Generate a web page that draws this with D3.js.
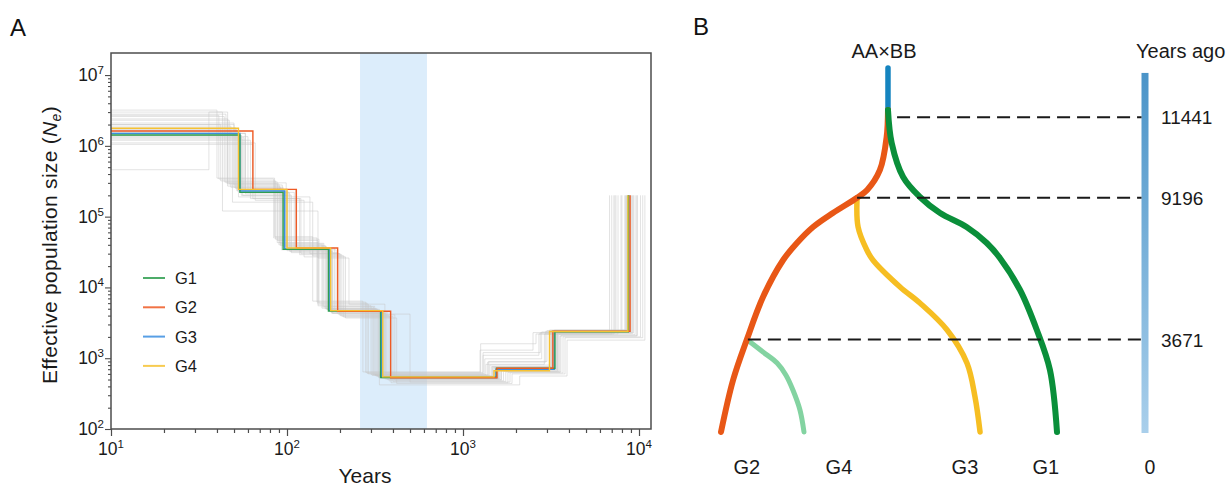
<!DOCTYPE html>
<html>
<head>
<meta charset="utf-8">
<script src="https://cdn.jsdelivr.net/npm/d3@7"></script>
<style>
  body { margin: 0; background: #fff; }
  svg { display: block; font-family: "Liberation Sans", Arial, sans-serif; }
</style>
</head>
<body>
<div id="chart"></div>
<script>
// ---------------- data: panel A (PSMC-like step curves) ----------------
const groupNames = ["G1", "G2", "G3", "G4"];
const groupColors = ["#2e9e4f", "#ee5a24", "#3b8ee0", "#f6c232"];

// years where each step starts, and Ne held from that year on
const g1Years = [10, 54, 95, 172, 340, 1550, 3330, 8700];
const g1Ne    = [1.42e6, 2.2e5, 3.45e4, 4.65e3, 535, 720, 2370, 2.0e5];
const g2Years = [10, 64, 113, 194, 388, 1560, 3240, 8900];
const g2Ne    = [1.62e6, 2.43e5, 3.6e4, 4.6e3, 530, 720, 2400, 2.0e5];
const g3Years = [10, 54, 97, 175, 345, 1540, 3300, 8750];
const g3Ne    = [1.5e6, 2.3e5, 3.5e4, 4.7e3, 540, 700, 2380, 2.0e5];
const g4Years = [10, 53, 100, 177, 350, 1500, 3100, 8650];
const g4Ne    = [1.77e6, 2.43e5, 3.6e4, 4.7e3, 545, 665, 2390, 2.0e5];

// bootstrap replicates (grey)
const bootYears = [
  [10, 48, 92, 165, 320, 1450, 3200, 8400],
  [10, 58, 104, 182, 360, 1600, 3400, 9100],
  [10, 44, 88, 150, 290, 1300, 2700, 7200],
  [10, 62, 118, 205, 400, 1750, 3600, 9800],
  [10, 52, 96, 170, 330, 1520, 3300, 8800],
  [10, 40, 85, 140, 270, 1250, 2500, 6800],
  [10, 55, 100, 178, 345, 1580, 3250, 8650],
  [10, 66, 125, 215, 420, 1900, 3800, 10500],
  [10, 50, 94, 160, 310, 1400, 3000, 8000],
  [10, 36, 46, 88, 150, 300, 1350, 2900, 7600],
  [10, 57, 110, 190, 370, 1650, 3450, 9300],
  [10, 47, 90, 158, 305, 1420, 3100, 8300],
  [10, 53, 135, 200, 380, 1700, 3500, 9500],
  [10, 45, 99, 168, 335, 2100, 3900, 10800],
  [10, 60, 112, 186, 355, 1480, 3150, 8500],
  [10, 42, 86, 152, 285, 1330, 2800, 7400],
  [10, 56, 106, 195, 500, 1850, 3700, 10200],
  [10, 51, 93, 173, 340, 1560, 3350, 8900],
  [10, 49, 140, 210, 390, 1800, 3550, 9700],
  [10, 54, 97, 176, 348, 1530, 3280, 8750],
  [10, 46, 91, 162, 315, 1380, 2950, 7900],
  [10, 64, 120, 200, 410, 1650, 3450, 9200],
  [10, 50, 95, 167, 325, 1470, 3180, 8450],
  [10, 43, 150, 225, 360, 1260, 2600, 7000],
  [10, 58, 103, 180, 365, 1620, 3380, 9000],
  [10, 52, 98, 172, 330, 1500, 3220, 8600],
  [10, 41, 84, 148, 280, 1300, 2750, 7300],
  [10, 55, 101, 181, 352, 1590, 3320, 8800]
];
const bootNe = [
  [1.9e6, 2.6e5, 3.9e4, 5.0e3, 560, 760, 2450, 2.0e5],
  [1.5e6, 2.1e5, 3.2e4, 4.3e3, 510, 690, 2300, 2.0e5],
  [2.6e6, 3.1e5, 4.6e4, 5.8e3, 600, 1100, 2200, 2.0e5],
  [1.2e6, 1.8e5, 2.9e4, 3.9e3, 470, 640, 2100, 2.0e5],
  [1.7e6, 2.3e5, 3.5e4, 4.8e3, 540, 730, 2500, 2.0e5],
  [3.2e6, 3.5e5, 5.2e4, 6.4e3, 640, 1300, 2300, 2.0e5],
  [1.4e6, 2.0e5, 3.3e4, 4.4e3, 520, 700, 2350, 2.0e5],
  [1.1e6, 1.7e5, 2.7e4, 3.7e3, 440, 600, 1950, 2.0e5],
  [2.1e6, 2.8e5, 4.1e4, 5.3e3, 580, 900, 2450, 2.0e5],
  [4.6e5, 3.0e6, 2.9e5, 4.3e4, 5.5e3, 590, 820, 2200, 2.0e5],
  [1.3e6, 2.2e5, 3.4e4, 4.5e3, 500, 680, 2280, 2.0e5],
  [2.3e6, 2.9e5, 4.0e4, 5.1e3, 570, 800, 2500, 2.0e5],
  [1.6e6, 1.9e5, 3.0e4, 4.0e3, 480, 650, 2150, 2.0e5],
  [2.8e6, 3.0e5, 3.7e4, 4.9e3, 420, 560, 1800, 2.0e5],
  [1.35e6, 2.4e5, 3.6e4, 4.6e3, 550, 740, 2420, 2.0e5],
  [2.0e6, 3.2e5, 4.8e4, 6.0e3, 610, 980, 2350, 2.0e5],
  [1.25e6, 2.0e5, 3.1e4, 4.2e3, 460, 620, 2000, 2.0e5],
  [1.8e6, 2.5e5, 3.4e4, 4.7e3, 530, 710, 2400, 2.0e5],
  [1.55e6, 1.6e5, 2.8e4, 3.8e3, 450, 630, 2050, 2.0e5],
  [1.45e6, 2.3e5, 3.5e4, 4.6e3, 540, 720, 2380, 2.0e5],
  [2.4e6, 2.7e5, 4.2e4, 5.4e3, 580, 880, 2400, 2.0e5],
  [1.05e6, 1.8e5, 3.0e4, 4.1e3, 490, 660, 2250, 2.0e5],
  [2.0e6, 2.6e5, 3.8e4, 5.0e3, 560, 760, 2460, 2.0e5],
  [3.0e6, 1.2e5, 2.6e4, 5.8e3, 620, 1600, 2200, 2.0e5],
  [1.5e6, 2.2e5, 3.3e4, 4.3e3, 515, 700, 2330, 2.0e5],
  [1.65e6, 2.35e5, 3.6e4, 4.75e3, 545, 730, 2410, 2.0e5],
  [2.7e6, 3.4e5, 5.0e4, 6.2e3, 630, 1200, 2300, 2.0e5],
  [1.4e6, 2.25e5, 3.45e4, 4.55e3, 525, 715, 2390, 2.0e5]
];

const shadedYears = [260, 624];
const xMajor = [10, 100, 1000, 10000];
const yMajor = [100, 1e3, 1e4, 1e5, 1e6, 1e7];

// ---------------- data: panel B (divergence schematic) ----------------
const splitYears = [11441, 9196, 3671];
const tipNames = ["G2", "G4", "G3", "G1"];
const tipLabelLane = [0.077, 0.351, 0.726, 0.967];
const dashStartLane = [0.524, 0.405, 0.08];
const stemPath = [[0.497, 12817], [0.497, 11645]];
// branch waypoints: [lane, years ago]
const branchG2 = [[0.497, 11645], [0.493, 10891], [0.473, 9970], [0.435, 9411], [0.405, 9196],
  [0.333, 8600], [0.274, 8054], [0.226, 7431], [0.185, 6769], [0.125, 5327], [0.077, 3671], [0.036, 2064], [0, 0]];
const branchG1 = [[0.497, 11645], [0.508, 10723], [0.542, 9774], [0.592, 9216], [0.652, 8600],
  [0.731, 8054], [0.791, 7431], [0.830, 6847], [0.890, 5600], [0.940, 4042], [0.979, 2460], [1, 0]];
const branchG3 = [[0.405, 9196], [0.408, 8054], [0.434, 7158], [0.452, 6769], [0.533, 5717],
  [0.592, 5093], [0.673, 4042], [0.732, 2738], [0.756, 1389], [0.771, 0]];
const branchG4 = [[0.077, 3671], [0.125, 3175], [0.167, 2738], [0.193, 2262], [0.214, 1667], [0.235, 873], [0.247, 0]];

// ---------------- svg ----------------
const svg = d3.select("#chart").append("svg")
  .attr("width", 1231)
  .attr("height", 488);

svg.append("rect").attr("width", 1231).attr("height", 488).attr("fill", "#fff");

// ================= Panel A =================
const plotA = {left: 111, right: 651, top: 53, bottom: 429};

const x = d3.scaleLog().domain([10, 11700]).range([plotA.left, plotA.right]);
const y = d3.scaleLog().domain([100, 2.05e7]).range([plotA.bottom, plotA.top]);

svg.append("clipPath").attr("id", "clipA")
  .append("rect")
  .attr("x", plotA.left).attr("y", plotA.top)
  .attr("width", plotA.right - plotA.left)
  .attr("height", plotA.bottom - plotA.top);

// shaded period
svg.append("rect")
  .attr("x", x(shadedYears[0]))
  .attr("y", plotA.top)
  .attr("width", x(shadedYears[1]) - x(shadedYears[0]))
  .attr("height", plotA.bottom - plotA.top)
  .attr("fill", "#dcedfb");

const stepLine = d3.line()
  .curve(d3.curveStepAfter)
  .x(d => x(d[0]))
  .y(d => y(d[1]));

const linesA = svg.append("g").attr("clip-path", "url(#clipA)");

// bootstraps
bootYears.forEach((yrs, i) => {
  const pts = yrs.map((t, j) => [t, bootNe[i][j]]);
  linesA.append("path")
    .datum(pts)
    .attr("d", stepLine)
    .attr("fill", "none")
    .attr("stroke", "#c8c8c8")
    .attr("stroke-opacity", 0.5)
    .attr("stroke-width", 1);
});

// main curves (drawn G3, G1, G2, G4)
const mainSeries = [
  {name: "G3", years: g3Years, ne: g3Ne},
  {name: "G1", years: g1Years, ne: g1Ne},
  {name: "G2", years: g2Years, ne: g2Ne},
  {name: "G4", years: g4Years, ne: g4Ne}
];
mainSeries.forEach(s => {
  const pts = s.years.map((t, j) => [t, s.ne[j]]);
  linesA.append("path")
    .datum(pts)
    .attr("d", stepLine)
    .attr("fill", "none")
    .attr("stroke", groupColors[groupNames.indexOf(s.name)])
    .attr("stroke-width", 1.4);
});

// frame
svg.append("rect")
  .attr("x", plotA.left).attr("y", plotA.top)
  .attr("width", plotA.right - plotA.left)
  .attr("height", plotA.bottom - plotA.top)
  .attr("fill", "none")
  .attr("stroke", "#4d4d4d")
  .attr("stroke-width", 1.5);

// ticks
const xTicks = [];
[10, 100, 1000].forEach(d => { for (let m = 1; m <= 9; m++) xTicks.push(m * d); });
xTicks.push(10000);
const yTicks = [];
[100, 1e3, 1e4, 1e5, 1e6].forEach(d => { for (let m = 1; m <= 9; m++) yTicks.push(m * d); });
yTicks.push(1e7);

const isMajor = v => Math.abs(Math.log10(v) - Math.round(Math.log10(v))) < 1e-9;

const xAxis = svg.append("g")
  .attr("transform", `translate(0,${plotA.bottom})`)
  .call(d3.axisBottom(x).tickValues(xTicks).tickFormat(""));
xAxis.select(".domain").remove();
xAxis.selectAll(".tick line")
  .attr("y2", d => isMajor(d) ? 7 : 4)
  .attr("stroke", "#4d4d4d")
  .attr("stroke-width", 1.2);

const yAxis = svg.append("g")
  .attr("transform", `translate(${plotA.left},0)`)
  .call(d3.axisLeft(y).tickValues(yTicks).tickFormat(""));
yAxis.select(".domain").remove();
yAxis.selectAll(".tick line")
  .attr("x2", d => isMajor(d) ? -6 : -3)
  .attr("stroke", "#4d4d4d")
  .attr("stroke-width", 1.1);

// tick labels with superscripts
xMajor.forEach(v => {
  const t = svg.append("text")
    .attr("x", x(v)).attr("y", 455)
    .attr("text-anchor", "middle")
    .attr("font-size", 17.5)
    .attr("fill", "#1a1a1a");
  t.append("tspan").text("10");
  t.append("tspan").attr("dy", -7).attr("font-size", 11.5).text(Math.round(Math.log10(v)));
});
yMajor.forEach(v => {
  const t = svg.append("text")
    .attr("x", 104).attr("y", y(v) + 6)
    .attr("text-anchor", "end")
    .attr("font-size", 17.5)
    .attr("fill", "#1a1a1a");
  t.append("tspan").text("10");
  t.append("tspan").attr("dy", -7).attr("font-size", 11.5).text(Math.round(Math.log10(v)));
});

// axis titles
svg.append("text")
  .attr("x", 365).attr("y", 483)
  .attr("text-anchor", "middle")
  .attr("font-size", 21)
  .attr("fill", "#1a1a1a")
  .text("Years");

const yTitle = svg.append("text")
  .attr("transform", "translate(57,245) rotate(-90)")
  .attr("text-anchor", "middle")
  .attr("font-size", 21)
  .attr("letter-spacing", 0.3)
  .attr("fill", "#1a1a1a");
yTitle.append("tspan").text("Effective population size (");
yTitle.append("tspan").attr("font-style", "italic").text("N");
yTitle.append("tspan").attr("font-style", "italic").attr("font-size", 14).attr("dy", 4).text("e");
yTitle.append("tspan").attr("dy", -4).text(")");

// legend
const legend = svg.append("g").attr("transform", "translate(143,278)");
groupNames.forEach((name, i) => {
  const gy = i * 29.3;
  legend.append("line")
    .attr("x1", 0).attr("x2", 22)
    .attr("y1", gy).attr("y2", gy)
    .attr("stroke", groupColors[i])
    .attr("stroke-opacity", 0.85)
    .attr("stroke-width", 2);
  legend.append("text")
    .attr("x", 32).attr("y", gy + 6)
    .attr("font-size", 16.5)
    .attr("fill", "#1a1a1a")
    .text(name);
});

svg.append("text")
  .attr("x", 10).attr("y", 36)
  .attr("font-size", 24)
  .attr("fill", "#111")
  .text("A");

// ================= Panel B =================
const yB = d3.scaleLinear().domain([0, 3671, 9196, 11441]).range([432, 339.5, 197.7, 117.3]);
const xB = d3.scaleLinear().domain([0, 1]).range([721, 1057]);
const barX = 1145;

const defs = svg.append("defs");
const grad = defs.append("linearGradient")
  .attr("id", "timeGrad")
  .attr("x1", 0).attr("y1", 0).attr("x2", 0).attr("y2", 1);
grad.append("stop").attr("offset", "0%").attr("stop-color", "#4b94c8");
grad.append("stop").attr("offset", "100%").attr("stop-color", "#a9cfeb");

svg.append("rect")
  .attr("x", barX - 3.5)
  .attr("y", yB(12680))
  .attr("width", 7)
  .attr("height", yB(0) + 1 - yB(12680))
  .attr("fill", "url(#timeGrad)");

const branchLine = d3.line()
  .curve(d3.curveCatmullRom.alpha(0.5))
  .x(d => xB(d[0]))
  .y(d => yB(d[1]));

svg.append("path")
  .attr("d", branchLine(stemPath))
  .attr("fill", "none")
  .attr("stroke", "#1584bf")
  .attr("stroke-width", 5.5)
  .attr("stroke-linecap", "round");

const branches = [
  {pts: branchG3, color: "#f6be22", w: 5.5},
  {pts: branchG4, color: "#83d3a1", w: 5},
  {pts: branchG2, color: "#e85716", w: 6},
  {pts: branchG1, color: "#0a8f3a", w: 6}
];
branches.forEach(b => {
  svg.append("path")
    .attr("d", branchLine(b.pts))
    .attr("fill", "none")
    .attr("stroke", b.color)
    .attr("stroke-width", b.w)
    .attr("stroke-linecap", "round");
});

// dashed divergence lines + labels
splitYears.forEach((yr, i) => {
  svg.append("line")
    .attr("x1", xB(dashStartLane[i]))
    .attr("x2", barX - 3.5)
    .attr("y1", yB(yr)).attr("y2", yB(yr))
    .attr("stroke", "#1a1a1a")
    .attr("stroke-width", 2)
    .attr("stroke-dasharray", "13,7");
  svg.append("text")
    .attr("x", 1161).attr("y", yB(yr) + 7)
    .attr("font-size", 19)
    .attr("fill", "#1a1a1a")
    .text(yr);
});

svg.append("text")
  .attr("x", 1150).attr("y", 474)
  .attr("text-anchor", "middle")
  .attr("font-size", 19.5)
  .attr("fill", "#1a1a1a")
  .text("0");

tipNames.forEach((name, i) => {
  svg.append("text")
    .attr("x", xB(tipLabelLane[i])).attr("y", 474)
    .attr("text-anchor", "middle")
    .attr("font-size", 20)
    .attr("fill", "#1a1a1a")
    .text(name);
});

svg.append("text")
  .attr("x", xB(0.497) - 4).attr("y", 58)
  .attr("text-anchor", "middle")
  .attr("font-size", 20)
  .attr("fill", "#1a1a1a")
  .text("AA×BB");

svg.append("text")
  .attr("x", 1136).attr("y", 58)
  .attr("font-size", 20)
  .attr("fill", "#1a1a1a")
  .text("Years ago");

svg.append("text")
  .attr("x", 693).attr("y", 35)
  .attr("font-size", 24)
  .attr("fill", "#111")
  .text("B");
</script>
</body>
</html>
